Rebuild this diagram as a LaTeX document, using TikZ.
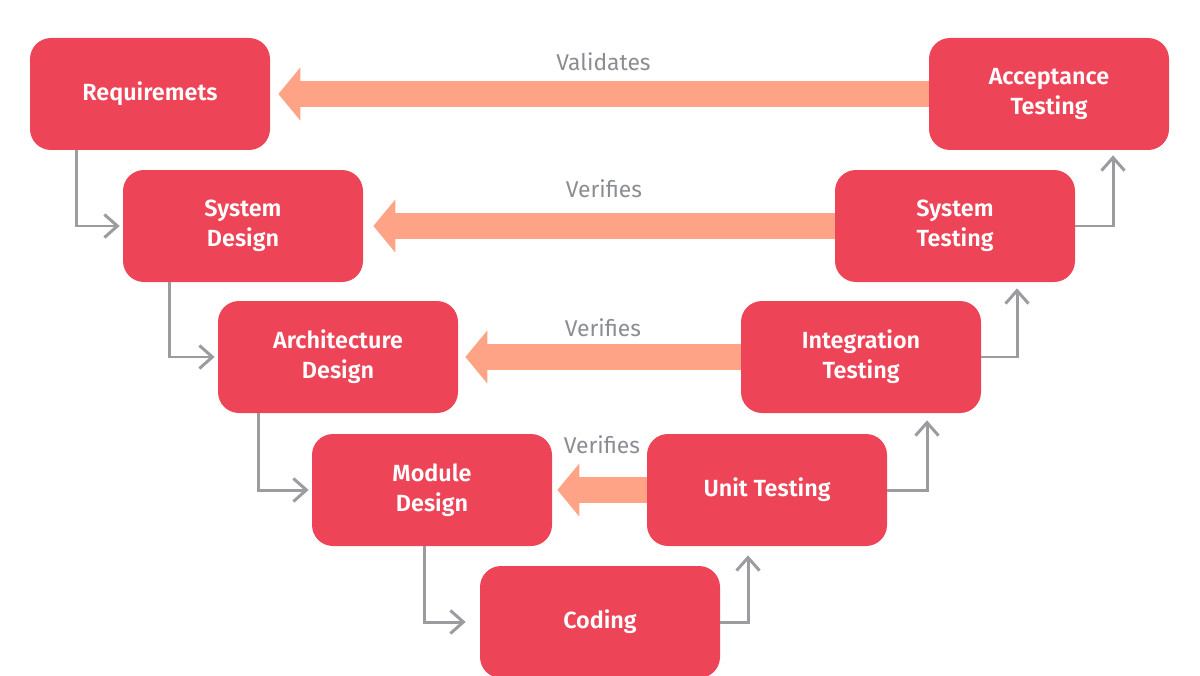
\documentclass[tikz,border=0pt]{standalone}
\usepackage{fontspec}
\setmainfont{Fira Sans}[BoldFont=* SemiBold]
\usetikzlibrary{arrows.meta,positioning}
\definecolor{BoxRed}{HTML}{EE4458}
\definecolor{Salmon}{HTML}{FFA386}
\definecolor{LineGray}{HTML}{9A9C9F}
\definecolor{TextGray}{HTML}{8A8D91}
\tikzstyle{phase}     = [shape=rectangle,rounded corners=0.42cm,minimum width=4.8cm,minimum height=2.24cm,fill=BoxRed,text=white,align=center,font=\fontsize{13.3}{17}\selectfont\bfseries]
\tikzstyle{flow}      = [draw=LineGray,line width=1.7pt,-{Straight Barb[length=2.6mm,width=4.6mm]}]
\tikzstyle{check}     = [draw=Salmon,line width=15.3pt,-{Triangle[length=4.4mm,width=10.4mm]}]
\tikzstyle{checktext} = [text=TextGray,font=\fontsize{13}{15}\selectfont]

\begin{document}
\begin{tikzpicture}
  \useasboundingbox (0,0) rectangle (24,13.5);

  % Design side
  \node[phase] (req)  at (3.00,11.62) {Requiremets};
  \node[phase] (sysd) at (4.86,8.98)  {System\\Design};
  \node[phase] (arch) at (6.76,6.36)  {Architecture\\Design};
  \node[phase] (mod)  at (8.64,3.70)  {Module\\Design};
  % Bottom
  \node[phase] (code) at (12.00,1.06) {Coding};
  % Testing side
  \node[phase] (unit)  at (15.34,3.70)  {Unit Testing};
  \node[phase] (integ) at (17.22,6.36)  {Integration\\Testing};
  \node[phase] (syst)  at (19.10,8.98)  {System\\Testing};
  \node[phase] (acc)   at (20.98,11.62) {Acceptance\\Testing};

  % Going down
  \draw[flow,shorten >=0.06cm] ([xshift=0.94cm]req.south west) |- (sysd.west);
  \draw[flow,shorten >=0.06cm] ([xshift=0.94cm]sysd.south west) |- (arch.west);
  \draw[flow,shorten >=0.06cm] ([xshift=0.82cm]arch.south west) |- (mod.west);
  \draw[flow,shorten >=0.28cm] ([xshift=2.26cm]mod.south west) |- (code.west);
  % Going up
  \draw[flow,shorten >=0.18cm] (code.east) -| ([xshift=-0.38cm]unit.south);
  \draw[flow,shorten >=0.14cm] (unit.east) -| ([xshift=1.32cm]integ.south);
  \draw[flow,shorten >=0.12cm] (integ.east) -| ([xshift=1.24cm]syst.south);
  \draw[flow,shorten >=0.10cm] (syst.east) -| ([xshift=1.28cm]acc.south);

  % Checks across the V
  \draw[check] (acc.west) -- ([xshift=0.16cm]req.east) node[midway,above=2pt,checktext] {Validates};
  \draw[check] (syst.west) -- ([xshift=0.20cm]sysd.east) node[midway,above=5pt,checktext] {Verifies};
  \draw[check] (integ.west) -- ([xshift=0.14cm]arch.east) node[midway,above=0.5pt,checktext] {Verifies};
  \draw[check] (unit.west) -- ([xshift=0.10cm]mod.east) node[midway,above=9.5pt,checktext] {Verifies};
\end{tikzpicture}
\end{document}
